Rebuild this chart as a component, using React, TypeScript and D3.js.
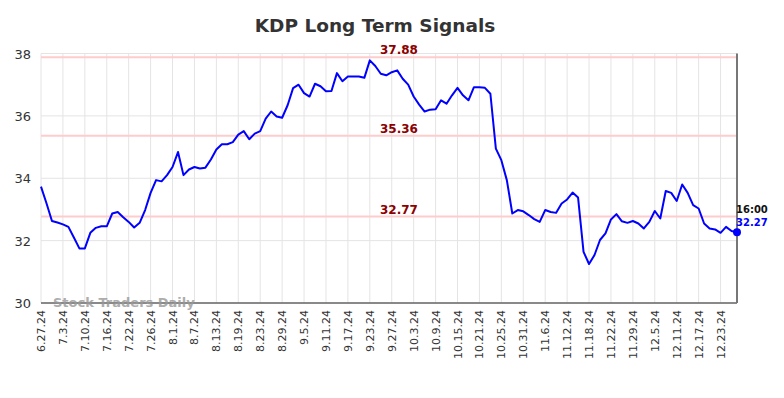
import React from "react";
import * as d3 from "d3";

const values: number[] = [
  33.73, 33.2, 32.63, 32.58, 32.52, 32.44, 32.1, 31.75, 31.75, 32.25,
  32.41, 32.46, 32.46, 32.87, 32.92, 32.75, 32.6, 32.42, 32.57, 32.98,
  33.53, 33.94, 33.9, 34.1, 34.36, 34.84, 34.1, 34.28, 34.36, 34.31,
  34.34, 34.6, 34.92, 35.09, 35.09, 35.16, 35.4, 35.51, 35.25, 35.43,
  35.51, 35.91, 36.14, 35.98, 35.94, 36.34, 36.89, 37.0, 36.73, 36.62,
  37.03, 36.95, 36.79, 36.8, 37.37, 37.11, 37.26, 37.26, 37.26, 37.22,
  37.78, 37.6, 37.35, 37.3, 37.4, 37.46, 37.19, 37.0, 36.62, 36.36,
  36.14, 36.2, 36.21, 36.5, 36.39, 36.66, 36.9, 36.66, 36.5, 36.92,
  36.92, 36.9, 36.71, 34.95, 34.58, 33.94, 32.87, 32.98, 32.94, 32.82,
  32.69, 32.6, 32.98, 32.92, 32.89, 33.19, 33.32, 33.54, 33.38, 31.64,
  31.25, 31.54, 32.02, 32.23, 32.68, 32.85, 32.62, 32.57, 32.63, 32.55,
  32.39, 32.6, 32.95, 32.71, 33.59, 33.53, 33.27, 33.8, 33.53, 33.14,
  33.03, 32.55, 32.39, 32.36, 32.25, 32.44, 32.31, 32.27,
];

const tickLabels: string[] = [
  "6.27.24", "7.3.24", "7.10.24", "7.16.24", "7.22.24", "7.26.24", "8.1.24", "8.7.24",
  "8.13.24", "8.19.24", "8.23.24", "8.29.24", "9.5.24", "9.11.24", "9.17.24", "9.23.24",
  "9.27.24", "10.3.24", "10.9.24", "10.15.24", "10.21.24", "10.25.24", "10.31.24", "11.6.24",
  "11.12.24", "11.18.24", "11.22.24", "11.29.24", "12.5.24", "12.11.24", "12.17.24", "12.23.24",
];
const tickStep = 4;

const yTicks: number[] = [30, 32, 34, 36, 38];
const signalLevels: number[] = [37.88, 35.36, 32.77];
const lastTime = "16:00";

export default function App() {
  const W = 784, H = 398;
  const left = 41, right = 737, top = 53.5, bottom = 303;
  const x = d3.scaleLinear().domain([0, values.length - 1]).range([left, right]);
  const y = d3.scaleLinear().domain([30, 38]).range([bottom, top]);
  const line = d3.line<number>().x((_, i) => x(i)).y((d) => y(d));
  const lastI = values.length - 1;
  const last = values[lastI];

  return (
    <svg width={W} height={H} style={{ position: "absolute", left: 0, top: 0, fontFamily: "DejaVu Sans, sans-serif" }}>
      <rect width={W} height={H} fill="#fff" />
      <text x={375} y={32} textAnchor="middle" fontSize={18.5} fontWeight="bold" fill="#333">KDP Long Term Signals</text>
      {yTicks.map((t) => (
        <g key={"y" + t}>
          <line x1={left} x2={right} y1={y(t)} y2={y(t)} stroke="#e4e4e4" strokeWidth={1} />
          <text x={31} y={y(t) + 5} textAnchor="end" fontSize={13} fill="#333">{t}</text>
        </g>
      ))}
      {tickLabels.map((lab, k) => {
        const xi = x(k * tickStep);
        return (
          <g key={"x" + k}>
            <line x1={xi} x2={xi} y1={top} y2={bottom} stroke="#e4e4e4" strokeWidth={1} />
            <text transform={`translate(${xi + 4},${310}) rotate(-90)`} textAnchor="end" fontSize={11} fill="#333">{lab}</text>
          </g>
        );
      })}
      {signalLevels.map((v) => (
        <g key={"s" + v}>
          <line x1={left} x2={right} y1={y(v)} y2={y(v)} stroke="#ffcccc" strokeWidth={2} />
          <text x={399} y={y(v) - 3} textAnchor="middle" fontSize={12} fontWeight="bold" fill="#8b0000">{v.toFixed(2)}</text>
        </g>
      ))}
      <line x1={left} x2={right} y1={bottom} y2={bottom} stroke="#666" strokeWidth={1.5} />
      <line x1={right} x2={right} y1={top} y2={bottom} stroke="#777" strokeWidth={2} />
      <text x={53} y={307} fontSize={13} fontWeight="bold" fill="#999" opacity={0.8}>Stock Traders Daily</text>
      <path d={line(values) || ""} fill="none" stroke="#0000ff" strokeWidth={2} strokeLinejoin="round" />
      <circle cx={x(lastI)} cy={y(last)} r={4} fill="#0000ff" />
      <text x={736} y={213} fontSize={10} fontWeight="bold" fill="#111">{lastTime}</text>
      <text x={736} y={226} fontSize={10} fontWeight="bold" fill="#0000ff">{last.toFixed(2)}</text>
    </svg>
  );
}
